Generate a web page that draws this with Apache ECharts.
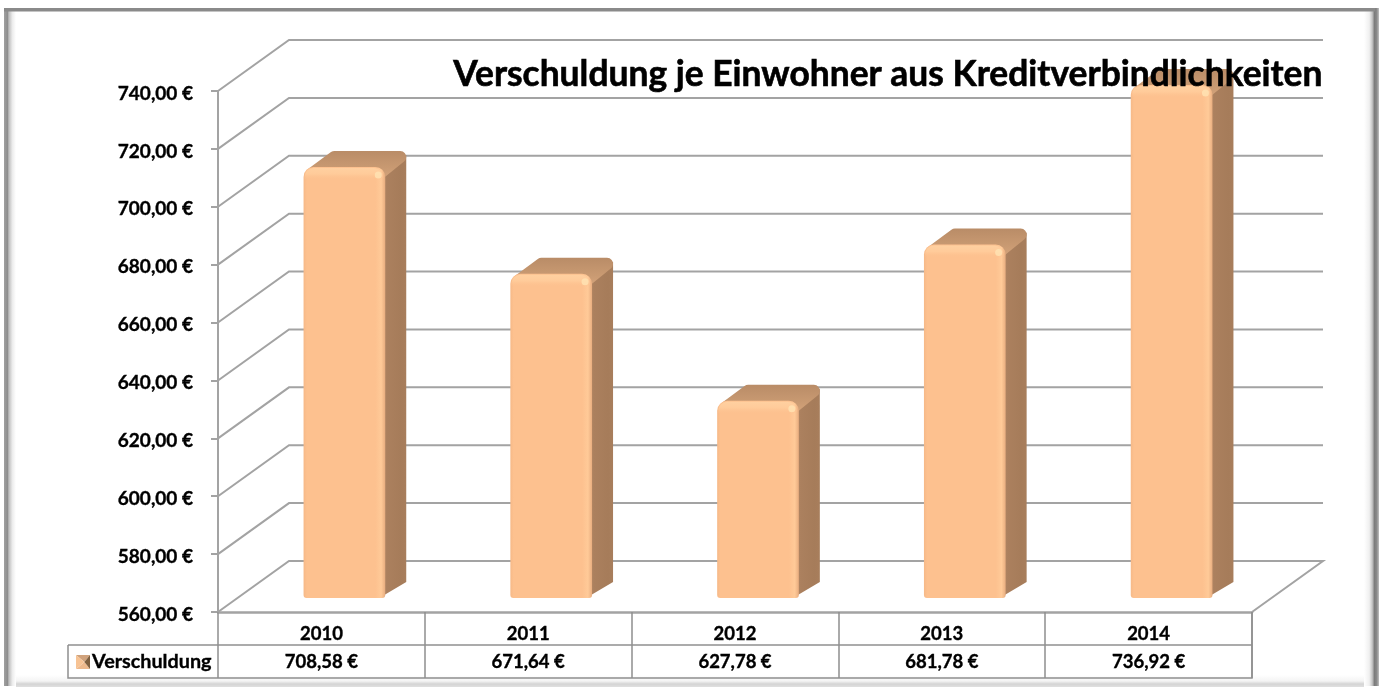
<!DOCTYPE html>
<html><head><meta charset="utf-8">
<style>html,body{margin:0;padding:0;background:#fff}#c{width:1381px;height:689px}</style>
<script src="https://cdn.jsdelivr.net/npm/echarts@6/dist/echarts.min.js"></script>
</head><body><div id="c"></div>
<script>
const categories = ['2010','2011','2012','2013','2014'];
const debtValues = [708.58,671.64,627.78,681.78,736.92];
const seriesName = 'Verschuldung';
const titleText = 'Verschuldung je Einwohner aus Kreditverbindlichkeiten';
const axisMin = 560, axisMax = 740, axisStep = 20;
const tickValues = [560,580,600,620,640,660,680,700,720,740];

const euro = v => v.toFixed(2).replace('.', ',') + ' €';
const GRID = '#a3a3a3', FONT = 'Lato, "Open Sans", sans-serif';
const WALL_DX = 71, WALL_DY = -51;       // depth of the floor
const BAR_DX = 23, BAR_DY = -14;         // where the bars stand in that depth
const SIDE_DX = 22, SIDE_DY = -16;       // depth of a bar
const ROW_H = 33;
const heavy = {textBorderColor:'#000',textBorderWidth:0.35};
const LG = (x0,y0,x1,y1,stops) => new echarts.graphic.LinearGradient(x0,y0,x1,y1,stops.map(s=>({offset:s[0],color:s[1]})));

const chart = echarts.init(document.getElementById('c'), null, {renderer:'canvas'});

function renderWalls(params, api){
  const cs = params.coordSys;
  const y = api.coord([0, api.value(0)])[1];
  const xl = cs.x, xr = cs.x + cs.width;
  const isFloor = api.value(0) === axisMin;
  return {type:'group',children:[{
    type:'polyline', silent:true,
    shape:{points:[[xl,y],[xl+WALL_DX,y+WALL_DY],[xr+WALL_DX,y+WALL_DY]].concat(isFloor?[[xr,y]]:[])},
    style:{fill:null,stroke:GRID,lineWidth:2}
  }]};
}

function renderBar(params, api){
  const base = api.coord([api.value(0), axisMin]);
  const top = api.coord([api.value(0), api.value(1)]);
  const w = api.size([1,0])[0] * 0.395;
  const x0 = base[0] - w/2 + BAR_DX, x1 = x0 + w;
  const yt = top[1] + BAR_DY - 1, yb = base[1] + BAR_DY;
  const r = 6;
  const round = (pts, fill) => ({type:'polygon', shape:{points:pts},
    style:{fill, stroke:fill, lineWidth:r*2, lineJoin:'round'}});
  const side = {type:'polygon',shape:{points:[[x1-6,yt+4],[x1+SIDE_DX-1,yt+SIDE_DY+4],[x1+SIDE_DX-1,yb+SIDE_DY],[x1-6,yb]]},
    style:{fill:LG(0,0,1,0,[[0,'#b78c69'],[.3,'#ab805e'],[.8,'#a67c5a'],[1,'#a87e5c']])}};
  const top3 = round([[x0+8,yt+7],[x1-6,yt+7],[x1+SIDE_DX-r-1,yt+SIDE_DY+r],[x0+SIDE_DX+9,yt+SIDE_DY+r]],
    LG(0,0,0,1,[[0,'#b98c67'],[.6,'#c99a72'],[1,'#d6a57c']]));
  const front = {type:'rect', shape:{x:x0,y:yt,width:w,height:yb-yt,r:[10,10,3,3]},
    style:{fill:LG(0,0,1,0,[[0,'#f6b988'],[.04,'#fdc18f'],[.88,'#fdc18f'],[.95,'#ffca98'],[1,'#e8ad7f']])}};
  const cap = {type:'rect', shape:{x:x0+1,y:yt+1,width:w-3,height:12,r:[9,9,0,0]},
    style:{fill:LG(0,0,0,1,[[0,'#ffd0a0'],[.5,'#ffcb9a'],[1,'rgba(253,193,143,0)']])}};
  const glint = {type:'circle', shape:{cx:x1-7,cy:yt+8,r:3.5}, style:{fill:'#ffe4b4',opacity:.8}};
  return {type:'group',children:[side,top3,front,cap,glint]};
}

function renderTable(params){
  const cs = params.coordSys;
  const y1 = cs.y + cs.height + ROW_H, y2 = y1 + ROW_H, xr = cs.x + cs.width;
  const line = pts => ({type:'polyline',shape:{points:pts},style:{fill:null,stroke:'#8f8f8f',lineWidth:1.5}});
  const lx = cs.x - 150, ix = lx + 8, iy = y1 + 10, s = 14;
  return {type:'group',children:[
    line([[lx,y1],[xr,y1]]), line([[lx,y1],[lx,y2],[xr,y2],[xr,y1-ROW_H]]),
    {type:'polygon',shape:{points:[[ix,iy],[ix+s,iy],[ix+s*.6,iy+s/2]]},style:{fill:'#d0a27c'}},
    {type:'polygon',shape:{points:[[ix,iy+s],[ix+s,iy+s],[ix+s*.6,iy+s/2]]},style:{fill:'#eeb98c'}},
    {type:'polygon',shape:{points:[[ix,iy],[ix,iy+s],[ix+s*.6,iy+s/2]]},style:{fill:'#f7c394'}},
    {type:'polygon',shape:{points:[[ix+s,iy],[ix+s,iy+s],[ix+s*.6,iy+s/2]]},style:{fill:'#80603f'}},
    {type:'text',style:{x:lx+24,y:y1+ROW_H/2,text:seriesName,fill:'#000',font:'bold 19.8px '+FONT,verticalAlign:'middle',stroke:'#000',lineWidth:0.35}}
  ]};
}

chart.setOption({
  animation:false,
  backgroundColor:'#fff',
  title:{text:titleText,right:58,top:57,padding:0,textStyle:{color:'#000',fontFamily:FONT,fontWeight:'bold',fontSize:35.4,textBorderColor:'#000',textBorderWidth:0.6}},
  graphic:[
    {type:'rect',z:-10,shape:{x:4,y:8,width:12,height:678},style:{fill:LG(0,0,1,0,[[0,'#a0a0a0'],[.3,'#8e8e8e'],[.4,'#bdbdbd'],[.7,'#ececec'],[1,'#fff']])}},
    {type:'rect',z:-10,shape:{x:1364,y:8,width:15,height:678},style:{fill:LG(0,0,1,0,[[0,'#fff'],[.35,'#f0f0f0'],[.55,'#c4c4c4'],[.7,'#7c7c7c'],[.85,'#8a8a8a'],[1,'#c0c0c0']])}},
    {type:'rect',z:-10,shape:{x:16,y:675,width:1348,height:12},style:{fill:LG(0,0,0,1,[[0,'#fff'],[.5,'#f4f4f4'],[.75,'#d4d4d4'],[1,'#e0e0e0']])}},
    {type:'rect',z:-10,shape:{x:4,y:8,width:1371,height:3.5},style:{fill:'#8a8a8a'}}
  ],
  grid:{left:218,top:91,width:1034,height:521,containLabel:false},
  xAxis:{type:'category',data:categories,
    axisLine:{lineStyle:{color:GRID,width:2.5}},
    axisTick:{show:true,length:ROW_H*2,lineStyle:{color:'#8f8f8f',width:1.5}},
    axisLabel:Object.assign({interval:0,margin:8,lineHeight:28,color:'#000',fontFamily:FONT,fontWeight:'bold',fontSize:18.5,
      formatter:(v,i)=>v+'\n'+euro(debtValues[i])},heavy)},
  yAxis:{type:'value',min:axisMin,max:axisMax,interval:axisStep,
    splitLine:{show:false},
    axisLine:{show:true,lineStyle:{color:GRID,width:2}},
    axisTick:{show:true,length:7,lineStyle:{color:GRID,width:2}},
    axisLabel:Object.assign({margin:25,verticalAlign:'top',lineHeight:5,color:'#000',fontFamily:FONT,fontWeight:'bold',fontSize:19,formatter:v=>euro(v)},heavy)},
  series:[
    {type:'custom',name:'walls',z:1,silent:true,renderItem:renderWalls,encode:{y:0},data:tickValues.map(v=>[v])},
    {type:'custom',name:seriesName,z:3,silent:true,renderItem:renderBar,encode:{x:0,y:1},
      data:debtValues.map((v,i)=>[i,v])},
    {type:'custom',name:'table',z:2,silent:true,renderItem:renderTable,data:[[0]]}
  ]
});
</script></body></html>
